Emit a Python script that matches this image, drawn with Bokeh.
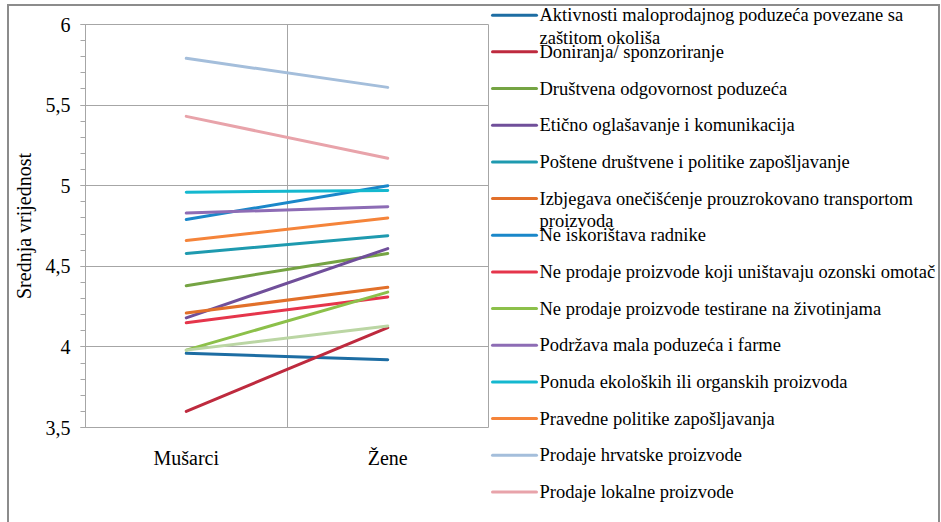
import numpy as np
from bokeh.plotting import figure
from bokeh.layouts import row
from bokeh.models import Range1d, FixedTicker
from bokeh.core.properties import value
from bokeh.embed import file_html
from bokeh.resources import INLINE

categories = ["Mušarci", "Žene"]

series_names = [
    "Aktivnosti maloprodajnog poduzeća povezane sa\nzaštitom okoliša",
    "Doniranja/ sponzoriranje",
    "Društvena odgovornost poduzeća",
    "Etično oglašavanje i komunikacija",
    "Poštene društvene i politike zapošljavanje",
    "Izbjegava onečišćenje prouzrokovano transportom\nproizvoda",
    "Ne iskorištava radnike",
    "Ne prodaje proizvode koji uništavaju ozonski omotač",
    "Ne prodaje proizvode testirane na životinjama",
    "Podržava mala poduzeća i farme",
    "Ponuda ekoloških ili organskih proizvoda",
    "Pravedne politike zapošljavanja",
    "Prodaje hrvatske proizvode",
    "Prodaje lokalne proizvode",
    "",
]

series_values = [
    [3.96, 3.92],
    [3.60, 4.12],
    [4.38, 4.58],
    [4.18, 4.61],
    [4.58, 4.69],
    [4.21, 4.37],
    [4.79, 5.00],
    [4.15, 4.31],
    [3.98, 4.34],
    [4.83, 4.87],
    [4.96, 4.97],
    [4.66, 4.80],
    [5.79, 5.61],
    [5.43, 5.17],
    [3.98, 4.13],
]

series_colors = [
    "#1D6DA3", "#BE2A3E", "#75A443", "#704F9A", "#1E9AAF", "#E2702A",
    "#1A87C9", "#E5354B", "#8CC04A", "#8D6CB5", "#14B8CF", "#F5843A",
    "#A4BEDB", "#E8A3AA", "#BBD6A4",
]

y_ticks = [3.5, 4.0, 4.5, 5.0, 5.5, 6.0]
y_tick_labels = ["3,5", "4", "4,5", "5", "5,5", "6"]
y_label = "Srednja vrijednost"

GRID = "#A6A6A6"
FRAME = "#8C8C8C"
SERIF = "Liberation Serif"

H = 516
PW = 480
LW = 449

# ---------------- main chart ----------------
p = figure(width=PW, height=H, output_backend="svg", toolbar_location=None,
           x_range=Range1d(0, len(categories)), y_range=Range1d(y_ticks[0], y_ticks[-1]),
           min_border_left=74, min_border_right=1, min_border_top=18, min_border_bottom=95)
p.frame_align = False
p.background_fill_color = "white"
p.border_fill_color = "white"
p.outline_line_color = GRID

xpos = [i + 0.5 for i in range(len(categories))]

p.xaxis.ticker = FixedTicker(ticks=xpos)
p.xaxis.major_label_overrides = {x: c for x, c in zip(xpos, categories)}
p.xaxis.axis_line_color = None
p.xaxis.major_tick_line_color = None
p.xaxis.minor_tick_line_color = None
p.xaxis.major_label_text_font = SERIF
p.xaxis.major_label_text_font_size = "20px"
p.xaxis.major_label_text_color = "black"
p.xaxis.major_label_standoff = 13

p.xgrid.ticker = FixedTicker(ticks=[(xpos[i] + xpos[i + 1]) / 2 for i in range(len(xpos) - 1)])
p.xgrid.grid_line_color = GRID
p.ygrid.ticker = FixedTicker(ticks=y_ticks)
p.ygrid.grid_line_color = GRID

minor = [round(v, 1) for v in np.arange(y_ticks[0], y_ticks[-1] + 1e-9, 0.1)]
p.yaxis.ticker = FixedTicker(ticks=y_ticks, minor_ticks=minor)
p.yaxis.major_label_overrides = {t: l for t, l in zip(y_ticks, y_tick_labels)}
p.yaxis.axis_line_color = GRID
p.yaxis.major_tick_line_color = GRID
p.yaxis.minor_tick_line_color = GRID
p.yaxis.major_tick_in = 0
p.yaxis.major_tick_out = 5
p.yaxis.minor_tick_in = 0
p.yaxis.minor_tick_out = 5
p.yaxis.major_label_text_font = SERIF
p.yaxis.major_label_text_font_size = "20px"
p.yaxis.major_label_text_color = "black"
p.yaxis.major_label_standoff = 10
p.yaxis.axis_label = y_label
p.yaxis.axis_label_text_font = SERIF
p.yaxis.axis_label_text_font_size = "20px"
p.yaxis.axis_label_text_font_style = "normal"
p.yaxis.axis_label_text_color = "black"
p.yaxis.axis_label_standoff = 8

for vals, col in zip(series_values, series_colors):
    p.line(x=xpos, y=vals, line_color=col, line_width=3, line_cap="round")

# ---------------- legend panel ----------------
leg = figure(width=LW, height=H, output_backend="svg", toolbar_location=None,
             x_range=Range1d(0, LW), y_range=Range1d(H, 0),
             x_axis_type=None, y_axis_type=None,
             min_border_left=0, min_border_right=0, min_border_top=0, min_border_bottom=0)
leg.frame_align = False
leg.grid.visible = False
leg.outline_line_color = None
leg.background_fill_color = "white"
leg.border_fill_color = "white"

PITCH = 36.67
FIRST = 8.7
SW_X0, SW_X1, TXT_X = 3, 47, 50
entries = [(n, c) for n, c in zip(series_names, series_colors) if n]
ys = [FIRST + k * PITCH for k in range(len(entries))]
leg.segment(x0=[SW_X0] * len(entries), x1=[SW_X1] * len(entries), y0=ys, y1=ys,
            line_color=[c for _, c in entries], line_width=3, line_cap="round")
first_lines = [n.split("\n")[0] for n, _ in entries]
leg.text(x=[TXT_X] * len(entries), y=ys, text=first_lines,
         text_font=value(SERIF), text_font_size="18.5px", text_color="black",
         text_baseline="middle", text_align="left")
sec = [(n.split("\n")[1], y + 22.5) for (n, _), y in zip(entries, ys) if "\n" in n]
leg.text(x=[TXT_X] * len(sec), y=[y for _, y in sec], text=[t for t, _ in sec],
         text_font=value(SERIF), text_font_size="18.5px", text_color="black",
         text_baseline="middle", text_align="left")

layout = row(p, leg, spacing=0)
layout.styles = {"border-left": f"2px solid {FRAME}", "border-top": f"2px solid {FRAME}",
                 "border-right": f"2px solid {FRAME}", "margin-left": "7px", "margin-top": "4px"}

open("out.html", "w").write(file_html(layout, INLINE))
